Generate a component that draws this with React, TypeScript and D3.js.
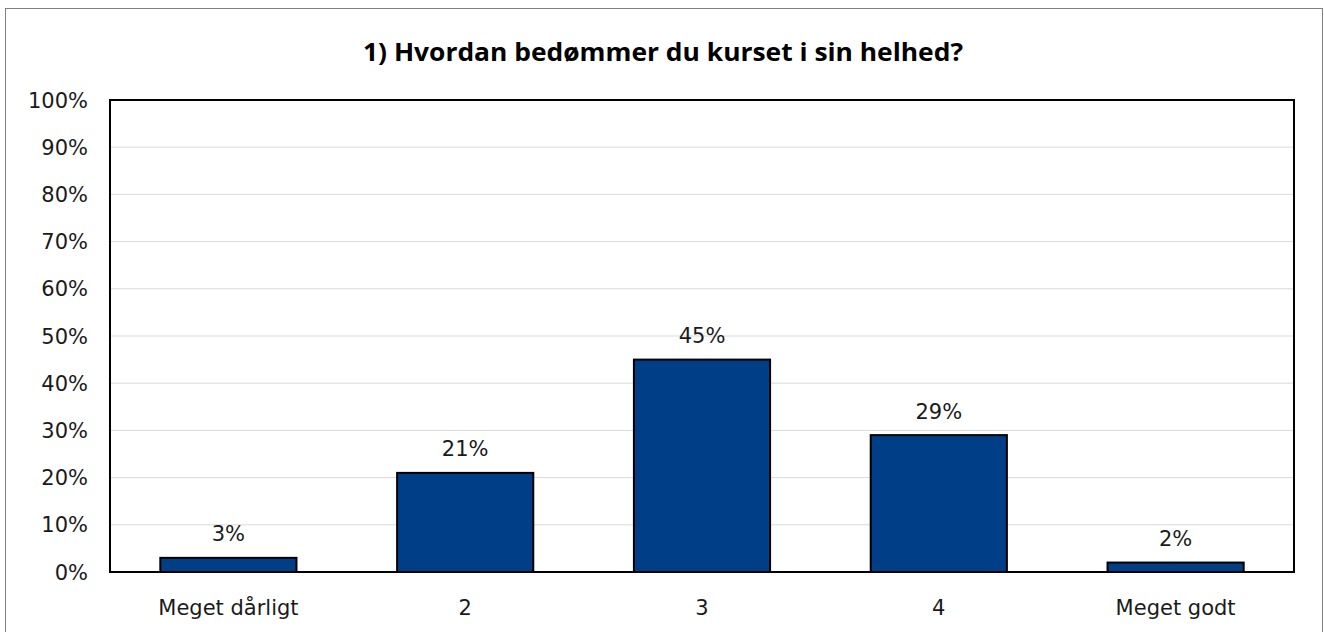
import React from 'react';
import * as d3 from 'd3';

const categories = ['Meget dårligt', '2', '3', '4', 'Meget godt'];
const values = [3, 21, 45, 29, 2];
const yTicks = [0, 10, 20, 30, 40, 50, 60, 70, 80, 90, 100];
const title = '1) Hvordan bedømmer du kurset i sin helhed?';

const W = 1324;
const H = 632;
const plot = { left: 110, top: 100, right: 1294, bottom: 572 };
const font = '"DejaVu Sans", sans-serif';

export default function App() {
  const x = d3.scaleBand<string>()
    .domain(categories)
    .range([plot.left, plot.right])
    .paddingInner(0.425)
    .paddingOuter(0.2125);
  const y = d3.scaleLinear().domain([0, 100]).range([plot.bottom, plot.top]);

  return (
    <svg width={W} height={H} style={{ position: 'absolute', left: 0, top: 0, fontFamily: font }}>
      <rect x={0} y={0} width={W} height={H} fill="#fff" />
      <rect x={5.5} y={8.5} width={W - 7} height={H} fill="none" stroke="#808080" strokeWidth={1} />
      <text x={W / 2 + 1} y={61} textAnchor="middle" fontSize={25} fontWeight={700} fill="#000"
        fontFamily='"Open Sans", sans-serif' textLength={600} lengthAdjust="spacingAndGlyphs">{title}</text>
      {yTicks.map(t => (
        <g key={t}>
          {t > 0 && t < 100 && (
            <line x1={plot.left} x2={plot.right} y1={y(t)} y2={y(t)} stroke="#d9d9d9" strokeWidth={1} />
          )}
          <text x={88} y={y(t)} dy="0.36em" textAnchor="end" fontSize={21} fill="#1a1a1a">{t}%</text>
        </g>
      ))}
      <rect x={plot.left} y={plot.top} width={plot.right - plot.left} height={plot.bottom - plot.top}
        fill="none" stroke="#000" strokeWidth={2} />
      {categories.map((c, i) => (
        <g key={c}>
          <rect x={x(c)} y={y(values[i])} width={x.bandwidth()} height={y(0) - y(values[i])}
            fill="#003F87" stroke="#000" strokeWidth={2} />
          <text x={(x(c) ?? 0) + x.bandwidth() / 2} y={y(values[i]) - 24} dy="0.36em" textAnchor="middle"
            fontSize={21} fill="#1a1a1a">{values[i]}%</text>
          <text x={(x(c) ?? 0) + x.bandwidth() / 2} y={607} dy="0.36em" textAnchor="middle"
            fontSize={21} fill="#1a1a1a">{c}</text>
        </g>
      ))}
    </svg>
  );
}
